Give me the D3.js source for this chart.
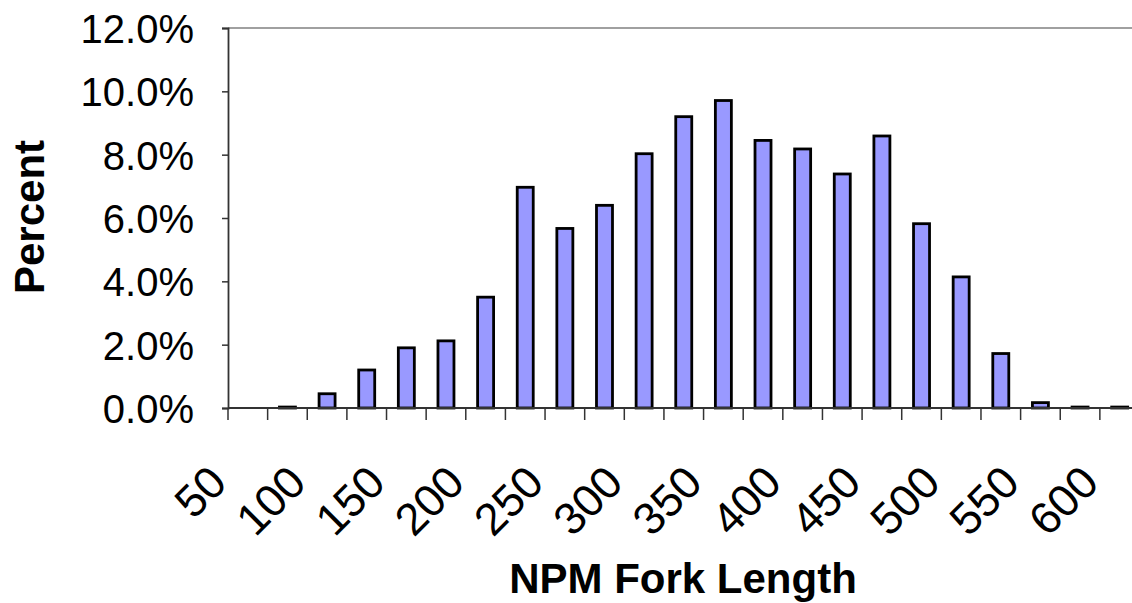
<!DOCTYPE html>
<html>
<head>
<meta charset="utf-8">
<script src="https://cdn.jsdelivr.net/npm/d3@7/dist/d3.min.js"></script>
<style>
html,body{margin:0;padding:0;background:#fff;}
svg{display:block;font-family:"Liberation Sans",Arial,sans-serif;}
</style>
</head>
<body>
<svg id="chart" width="1132" height="603"></svg>
<script>
// Bin lower bounds (fork length, mm)
const categories = [50,75,100,125,150,175,200,225,250,275,300,325,350,375,400,425,450,475,500,525,550,575,600];
// Percent of fish in each bin
const percents = [0,0.03,0.45,1.2,1.9,2.12,3.5,6.97,5.67,6.4,8.03,9.2,9.71,8.45,8.18,7.39,8.59,5.82,4.14,1.72,0.17,0.03,0.03];
const xTickLabels = [50,100,150,200,250,300,350,400,450,500,550,600];
const yTicks = [0,2,4,6,8,10,12];
const xTitle = "NPM Fork Length";
const yTitle = "Percent";

(function(){
const svg = d3.select("#chart");
const pLeft = 228, pRight = 1139.5, pTop = 28, pBottom = 408;

const x = d3.scaleBand().domain(categories).range([pLeft, pRight]).padding(0);
const y = d3.scaleLinear().domain([0, 12]).range([pBottom, pTop]);
const bw = x.bandwidth();
const barW = 16;

// top border line
svg.append("line").attr("x1", pLeft).attr("x2", 1132).attr("y1", y(12)).attr("y2", y(12))
  .attr("stroke", "#808080").attr("stroke-width", 1.5);

// bars
svg.append("g").selectAll("rect").data(categories.map((c,i)=>({c, v: percents[i]})).filter(d=>d.v>0))
  .join("rect")
  .attr("x", d => x(d.c) + (bw - barW)/2)
  .attr("width", barW)
  .attr("y", d => y(d.v))
  .attr("height", d => Math.max(0, y(0) - y(d.v)))
  .attr("fill", "#9999ff")
  .attr("stroke", "#000")
  .attr("stroke-width", 2.8);

// Y axis
const yAxis = d3.axisLeft(y).tickValues(yTicks).tickSize(6).tickPadding(28)
  .tickFormat(d => d3.format(".1f")(d) + "%");
const gy = svg.append("g").attr("transform", `translate(${pLeft},0)`).call(yAxis);
gy.select(".domain").attr("stroke", "#333").attr("stroke-width", 1.8);
gy.selectAll(".tick line").attr("stroke", "#333").attr("stroke-width", 1.5);
gy.selectAll(".tick text").attr("font-size", 40).attr("fill", "#000")
  .attr("font-family", "'Liberation Sans', Arial, sans-serif").attr("dy", "0.36em");

// X axis: ticks at every bin boundary
const boundaries = categories.map(c => x(c)).concat([pRight]);
const gx = svg.append("g");
gx.append("line").attr("x1", pLeft).attr("x2", pRight).attr("y1", pBottom).attr("y2", pBottom)
  .attr("stroke", "#333").attr("stroke-width", 1.8);
gx.selectAll("line.t").data(boundaries).join("line").attr("class","t")
  .attr("x1", d => d).attr("x2", d => d).attr("y1", pBottom).attr("y2", pBottom + 12)
  .attr("stroke", "#333").attr("stroke-width", 1.5);
gx.selectAll("text").data(xTickLabels).join("text")
  .attr("transform", d => `translate(${x(d) + 1},${pBottom + 77}) rotate(-45)`)
  .attr("text-anchor", "end")
  .attr("font-size", 45)
  .attr("fill", "#000")
  .text(d => d);

// titles
svg.append("text").attr("x", 683).attr("y", 593).attr("text-anchor", "middle")
  .attr("font-size", 42).attr("font-weight", "bold").text(xTitle);
svg.append("text").attr("transform", "translate(44,217) rotate(-90)").attr("text-anchor", "middle")
  .attr("font-size", 42).attr("font-weight", "bold").text(yTitle);
})();
</script>
</body>
</html>
